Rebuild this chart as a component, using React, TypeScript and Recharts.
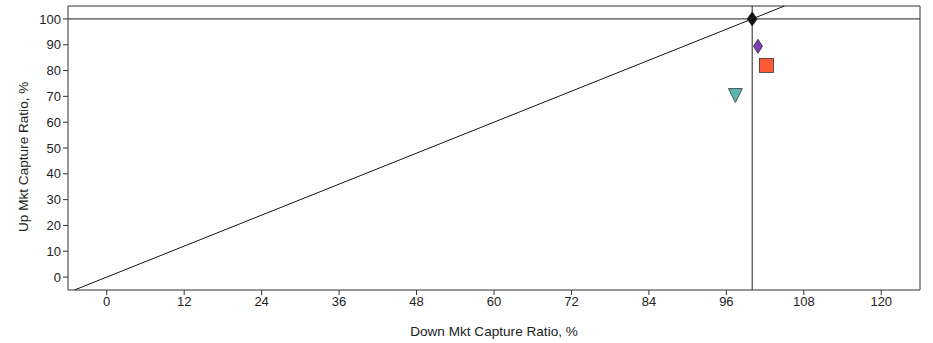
import React from "react";
import {
  ScatterChart, Scatter, XAxis, YAxis, ReferenceLine,
} from "recharts";

const X_TICKS = [0, 12, 24, 36, 48, 60, 72, 84, 96, 108, 120];
const Y_TICKS = [0, 10, 20, 30, 40, 50, 60, 70, 80, 90, 100];

/* points: down capture (x), up capture (y) */
const benchmark = [{ x: 100, y: 100 }];
const fundA = [{ x: 100.9, y: 89.4 }];
const fundB = [{ x: 102.2, y: 82 }];
const fundC = [{ x: 97.4, y: 70.7 }];
const diagonal = [{ x: -5, y: -5 }, { x: 105, y: 105 }];

const FONT = "'Liberation Sans', Arial, sans-serif";

function Diamond({ cx, cy, fill, w, h }: any) {
  return (
    <path
      d={`M${cx},${cy - h / 2} L${cx + w / 2},${cy} L${cx},${cy + h / 2} L${cx - w / 2},${cy} Z`}
      fill={fill}
      stroke="#222"
      strokeWidth={0.8}
    />
  );
}

function Square({ cx, cy }: any) {
  return <rect x={cx - 7} y={cy - 7} width={14} height={14} fill="#FF5A36" stroke="#333" strokeWidth={0.8} />;
}

function TriDown({ cx, cy }: any) {
  return (
    <path
      d={`M${cx - 7},${cy - 6} L${cx + 7},${cy - 6} L${cx},${cy + 8} Z`}
      fill="#5BB8B0"
      stroke="#333"
      strokeWidth={0.8}
    />
  );
}

export default function App() {
  const tickStyle = { fontSize: 13, fill: "#222", fontFamily: FONT };
  return (
    <div style={{ position: "absolute", left: 0, top: 0, fontFamily: FONT }}>
      <ScatterChart width={933} height={343} margin={{ top: 6, right: 13, bottom: 0, left: 0 }}>
        <XAxis
          type="number"
          dataKey="x"
          domain={[-6, 126]}
          ticks={X_TICKS}
          allowDataOverflow
          height={53}
          tickSize={5}
          stroke="#333"
          tick={tickStyle}
          label={{ value: "Down Mkt Capture Ratio, %", position: "insideBottom", offset: 7, style: { fontSize: 13.6, fill: "#222" } }}
        />
        <YAxis
          type="number"
          dataKey="y"
          domain={[-5, 105]}
          ticks={Y_TICKS}
          allowDataOverflow
          width={68}
          tickSize={5}
          stroke="#333"
          tick={tickStyle}
          label={{ value: "Up Mkt Capture Ratio, %", angle: -90, position: "insideLeft", offset: 23, dy: 84, style: { fontSize: 13.6, fill: "#222" } }}
        />
        <ReferenceLine y={105} stroke="#333" />
        <ReferenceLine x={126} stroke="#333" />
        <ReferenceLine y={100} stroke="#222" />
        <ReferenceLine x={100} stroke="#222" />
        <Scatter data={diagonal} line={{ stroke: "#111", strokeWidth: 1 }} shape={() => null} isAnimationActive={false} />
        <Scatter data={fundC} shape={(p: any) => <TriDown {...p} />} isAnimationActive={false} />
        <Scatter data={fundB} shape={(p: any) => <Square {...p} />} isAnimationActive={false} />
        <Scatter data={fundA} shape={(p: any) => <Diamond {...p} fill="#7B3FB5" w={9} h={14} />} isAnimationActive={false} />
        <Scatter data={benchmark} shape={(p: any) => <Diamond {...p} fill="#111" w={10} h={14} />} isAnimationActive={false} />
      </ScatterChart>
    </div>
  );
}
